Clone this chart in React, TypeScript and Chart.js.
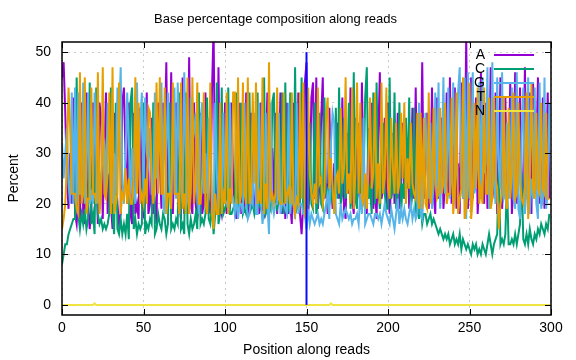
import React, { useEffect, useRef } from "react";
import { Chart, registerables } from "chart.js";

Chart.register(...registerables);

const titleText = "Base percentage composition along reads";
const xTitle = "Position along reads";
const yTitle = "Percent";
const seriesNames = ["A", "C", "G", "T", "N"];
const seriesColors = ["#9400d3", "#009e73", "#56b4e9", "#e69f00", "#f0e442"];

const A = [
  45,48,38,25,19,30,20,41,18,16, 22,17,40,18,16,42,20,15,19,40,
  22,27,16,40,37,17,30,42,18,26, 20,15,38,28,20,16,18,40,43,29,
  20,40,18,16,38,18,20,17,39,20, 18,20,42,18,20,37,18,20,16,40,
  28,19,40,32,48,20,28,46,18,30, 40,25,20,17,45,18,29,18,49,20,
  18,40,20,17,20,38,18,20,42,19, 20,18,42,55,20,18,47,20,18,22,
  40,18,28,19,40,24,20,17,30,40, 18,26,19,42,18,20,38,25,20,18,
  26,18,40,19,18,28,42,18,20,31, 20,38,18,26,42,18,24,17,40,18,
  20,16,40,18,20,42,18,14,20,44, 48,18,23,41,44,21,45,19,24,37,
  45,21,24,18,39,26,19,28,22,36, 21,25,41,19,17,34,22,43,21,18,
  37,21,26,19,44,23,20,18,35,22, 40,19,24,17,33,46,21,23,37,20,
  40,18,24,34,20,26,38,19,23,36, 21,25,33,19,24,39,21,43,20,26,
  24,48,21,27,38,19,25,43,22,18, 41,21,27,37,19,24,42,22,45,20,
  25,43,19,28,18,44,21,26,53,19, 24,45,21,27,41,18,25,46,23,20,
  40,19,26,47,21,24,42,18,30,45, 19,26,41,21,28,44,18,25,46,20,
  27,43,19,24,47,21,26,42,18,44, 22,29,45,20,25,41,19,27,42,21,
];

const C = [
  8,10,12,12,14,15,16,17,17,45, 18,15,18,16,19,15,17,44,16,18,
  14,43,18,16,17,15,16,15,16,18, 43,18,14,40,15,14,17,14,16,14,
  18,13,40,43,15,17,14,16,15,16, 40,14,16,15,17,16,40,14,15,18,
  16,15,18,17,14,16,40,15,16,15, 17,16,42,15,16,14,42,16,14,17,
  15,16,18,15,42,16,17,16,18,41, 17,16,20,14,18,44,16,18,43,18,
  19,20,43,18,18,19,20,42,18,20, 40,18,19,18,20,42,19,20,18,20,
  42,20,19,20,45,18,19,20,19,40, 42,20,19,21,20,42,18,44,20,19,
  42,20,20,47,19,20,20,45,18,20, 18,20,36,20,19,40,18,20,38,20,
  19,41,22,20,24,21,23,19,39,21, 43,20,22,37,21,24,40,19,23,46,
  21,19,36,22,20,24,41,47,21,23, 18,42,20,44,23,19,24,36,22,19,
  19,45,21,23,42,19,22,40,18,24, 21,37,23,41,19,22,39,18,21,17,
  20,16,18,18,16,17,18,16,17,16, 15,14,15,14,13,14,13,14,12,13,
  14,12,13,12,14,11,13,12,11,12, 11,10,12,11,12,10,11,10,12,11,
  10,12,14,12,10,12,13,14,28,12, 13,12,14,24,12,12,13,12,14,12,
  14,16,26,13,12,14,12,15,13,12, 14,13,15,14,16,15,14,16,15,18,
];

const G = [
  32,25,30,35,24,20,42,20,43,20, 42,22,22,44,20,25,42,20,22,20,
  42,30,20,26,24,31,32,22,40,34, 29,20,30,22,43,36,47,24,20,30,
  42,32,22,31,22,20,44,27,36,42, 22,41,30,28,35,22,22,42,25,30,
  31,44,20,18,30,42,24,20,32,43, 21,44,30,24,20,46,31,21,19,41,
  32,34,38,24,18,36,40,22,30,22, 37,32,20,16,40,26,19,32,21,38,
  21,20,19,40,22,21,18,21,17,20, 20,18,40,20,17,18,21,20,38,18,
  18,40,21,16,19,38,20,14,40,20, 18,20,20,38,18,20,20,19,18,40,
  18,22,20,17,40,18,20,20,18,18, 15,19,16,18,17,16,17,18,16,17,
  16,18,20,22,17,32,38,36,18,17, 16,20,17,18,19,18,17,18,16,17,
  17,18,16,22,18,37,16,17,18,18, 17,16,18,18,17,18,16,18,20,18,
  17,16,19,17,15,18,21,16,19,17, 19,17,16,18,20,17,19,17,18,40,
  18,17,24,38,27,21,36,19,24,42, 23,44,19,27,45,22,25,43,21,26,
  44,23,27,42,47,24,21,45,17,46, 21,28,46,22,24,29,44,21,45,26,
  28,47,19,22,48,24,20,45,27,23, 46,21,22,36,21,23,43,21,19,46,
  19,17,34,43,18,23,45,18,25,21, 43,20,17,44,19,21,45,19,22,40,
];

const T = [
  15,17,20,28,43,35,22,22,22,19, 18,46,20,22,45,18,21,21,43,22,
  22,20,46,18,22,47,22,21,26,42, 18,47,18,20,22,44,18,22,21,27,
  20,25,20,20,25,45,22,40,20,22, 20,25,20,39,38,25,20,24,44,22,
  45,22,22,43,18,22,22,19,44,22, 22,22,18,44,19,22,18,45,18,22,
  45,20,24,44,20,20,25,42,20,18, 26,44,18,15,22,18,18,40,18,22,
  20,42,18,23,20,42,42,20,45,20, 22,44,22,20,45,20,22,42,24,44,
  20,22,20,45,18,24,19,48,21,22, 20,22,43,21,20,20,42,20,22,23,
  20,42,20,18,21,20,42,21,44,18, 19,43,26,22,20,24,20,43,24,25,
  20,22,37,41,23,29,23,18,25,26, 22,39,24,27,45,22,26,20,43,19,
  26,44,22,40,21,20,26,19,27,41, 23,26,42,21,28,20,44,22,25,43,
  23,21,37,27,22,36,22,24,38,25, 40,20,29,23,36,24,22,21,38,19,
  38,19,37,20,19,42,20,23,39,25, 21,22,39,22,24,40,20,22,22,41,
  18,22,42,18,21,23,45,17,19,23, 44,17,21,40,23,43,20,23,20,43,
  22,22,41,19,21,41,25,23,15,20, 22,41,23,19,39,21,26,42,21,22,
  40,24,21,20,23,42,17,25,44,23, 21,38,23,22,40,23,22,38,21,21,
];

const nPositions = [0, 19, 20, 21, 164, 165, 166, 299];
const nValues = [0, 0, 0.3, 0, 0, 0.3, 0, 0];

const markerX = [150, 150];
const markerY = [0, 50];

const xTicks = [0, 50, 100, 150, 200, 250, 300];
const yTicks = [0, 10, 20, 30, 40, 50];

const positions = A.map((_, i) => i);

export default function App() {
  const ref = useRef<HTMLCanvasElement | null>(null);

  useEffect(() => {
    document.body.style.margin = "0";
    const family = "'Liberation Sans', Arial, Helvetica, sans-serif";
    const canvas = ref.current;
    if (!canvas) return;

    const mk = (vals: number[]) => positions.map((p, i) => ({ x: p, y: vals[i] }));

    const framePlugin = {
      id: "gnuframe",
      afterDatasetsDraw(chart: any) {
        const { ctx, chartArea } = chart;
        const xs = chart.scales.x;
        const ys = chart.scales.y;
        const { left, right, top, bottom } = chartArea;
        ctx.save();
        ctx.strokeStyle = "#000";
        ctx.lineWidth = 1;
        ctx.beginPath();
        const tl = 6;
        xTicks.forEach((v) => {
          const px = Math.round(xs.getPixelForValue(v)) + 0.5;
          ctx.moveTo(px, bottom);
          ctx.lineTo(px, bottom - tl);
          ctx.moveTo(px, top);
          ctx.lineTo(px, top + tl);
        });
        yTicks.forEach((v) => {
          const py = Math.round(ys.getPixelForValue(v)) + 0.5;
          ctx.moveTo(left, py);
          ctx.lineTo(left + tl, py);
          ctx.moveTo(right, py);
          ctx.lineTo(right - tl, py);
        });
        ctx.stroke();
        ctx.lineWidth = 1.5;
        ctx.strokeRect(left, top, right - left, bottom - top);

        // key
        ctx.font = `14px ${family}`;
        ctx.textAlign = "right";
        ctx.textBaseline = "middle";
        const keyY = [55, 69, 83, 97, 111];
        seriesNames.forEach((name, i) => {
          ctx.fillStyle = "#000";
          ctx.fillText(name, 485, keyY[i]);
          ctx.strokeStyle = seriesColors[i];
          ctx.lineWidth = 2;
          ctx.beginPath();
          ctx.moveTo(494, keyY[i]);
          ctx.lineTo(534, keyY[i]);
          ctx.stroke();
        });
        ctx.restore();
      },
    };

    const lineDs = (label: string, data: any[], color: string, order: number) => ({
      label,
      data,
      borderColor: color,
      backgroundColor: color,
      borderWidth: 2,
      pointRadius: 0,
      tension: 0,
      fill: false,
      order,
    });

    const chart = new Chart(canvas, {
      type: "line",
      data: {
        datasets: [
          lineDs("A", mk(A), seriesColors[0], 6),
          lineDs("C", mk(C), seriesColors[1], 5),
          lineDs("G", mk(G), seriesColors[2], 4),
          lineDs("T", mk(T), seriesColors[3], 3),
          lineDs("N", nPositions.map((p, i) => ({ x: p, y: nValues[i] })), seriesColors[4], 2),
          {
            ...lineDs("marker", markerX.map((p, i) => ({ x: p, y: markerY[i] })), "#0a0aff", 1),
            borderWidth: 2,
          },
        ],
      },
      options: {
        animation: false,
        responsive: false,
        devicePixelRatio: 1,
        layout: { padding: { left: 0, right: 25, top: 0, bottom: 0 } },
        plugins: {
          legend: { display: false },
          tooltip: { enabled: false },
          title: {
            display: true,
            text: titleText,
            color: "#000",
            font: { family, size: 13, weight: "normal" },
            padding: { top: 12, bottom: 14.4 },
          },
        },
        scales: {
          x: {
            type: "linear",
            min: 0,
            max: 300,
            afterBuildTicks: (s: any) => {
              s.ticks = xTicks.map((v) => ({ value: v }));
            },
            afterFit: (s: any) => {
              s.height = 45;
            },
            grid: { color: "#c8c8c8", drawTicks: false, lineWidth: 1 },
            border: { display: false, dash: [2, 4] },
            ticks: {
              color: "#000",
              font: { family, size: 14 },
              padding: 5,
              maxRotation: 0,
              autoSkip: false,
            },
            title: {
              display: true,
              text: xTitle,
              color: "#000",
              font: { family, size: 14 },
              padding: { top: 0, bottom: 1.5 },
            },
          },
          y: {
            type: "linear",
            min: -2,
            max: 52,
            afterBuildTicks: (s: any) => {
              s.ticks = yTicks.map((v) => ({ value: v }));
            },
            afterFit: (s: any) => {
              s.width = 62;
            },
            grid: { color: "#c8c8c8", drawTicks: false, lineWidth: 1 },
            border: { display: false, dash: [2, 4] },
            ticks: {
              color: "#000",
              font: { family, size: 14 },
              padding: 11,
            },
            title: {
              display: true,
              text: yTitle,
              color: "#000",
              font: { family, size: 14 },
              padding: { top: 6, bottom: 0 },
            },
          },
        },
      },
      plugins: [framePlugin],
    } as any);

    return () => chart.destroy();
  }, []);

  return (
    <div style={{ width: 576, height: 360, position: "relative" }}>
      <canvas ref={ref} width={576} height={360} style={{ display: "block" }} />
    </div>
  );
}
